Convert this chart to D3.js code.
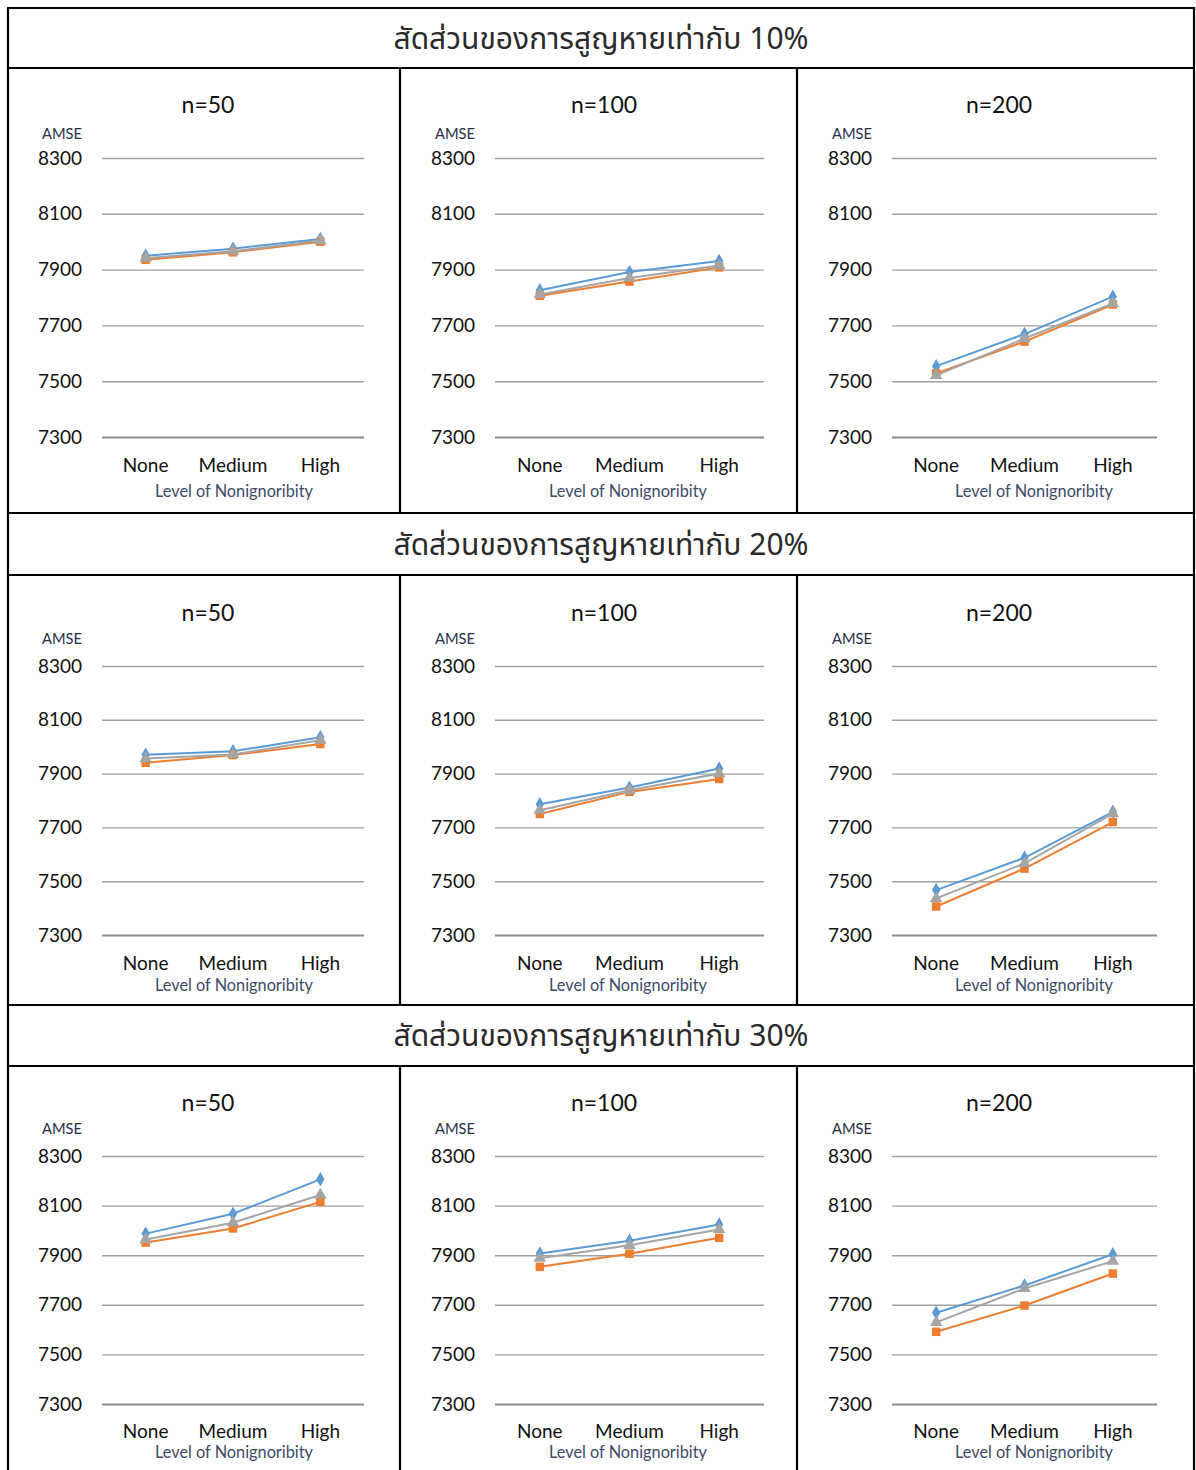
<!DOCTYPE html>
<html>
<head>
<meta charset="utf-8">
<script src="https://cdn.jsdelivr.net/npm/d3@7"></script>
<style>
  html, body { margin: 0; padding: 0; background: #fff; }
  svg { display: block; }
</style>
</head>
<body>
<svg id="chart" width="1196" height="1470"></svg>
<script>
// Categories on the x axis and the y tick values shared by all panels
const categories = ["None", "Medium", "High"];
const yTicks = [7300, 7500, 7700, 7900, 8100, 8300];
const missingRates = ["10%", "20%", "30%"];
const sampleSizes = ["n=50", "n=100", "n=200"];
const headerPrefix = "สัดส่วนของการสูญหายเท่ากับ ";
const yAxisLabel = "AMSE";
const xAxisLabel = "Level of Nonignoribity";

// AMSE by missing rate: each list holds [n=50, n=100, n=200], each with None/Medium/High
const blueSeries10 = [[7950, 7975, 8010], [7826, 7891, 7931], [7554, 7669, 7803]];
const orangeSeries10 = [[7935, 7962, 8000], [7806, 7857, 7908], [7528, 7642, 7775]];
const graySeries10 = [[7941, 7966, 8004], [7811, 7870, 7915], [7521, 7653, 7779]];

const blueSeries20 = [[7970, 7983, 8035], [7786, 7848, 7919], [7467, 7587, 7758]];
const orangeSeries20 = [[7940, 7969, 8010], [7750, 7832, 7880], [7406, 7547, 7720]];
const graySeries20 = [[7956, 7971, 8024], [7764, 7838, 7900], [7436, 7566, 7751]];

const blueSeries30 = [[7987, 8067, 8206], [7907, 7958, 8024], [7668, 7778, 7904]];
const orangeSeries30 = [[7951, 8008, 8115], [7853, 7906, 7970], [7591, 7697, 7826]];
const graySeries30 = [[7963, 8031, 8143], [7888, 7940, 8004], [7629, 7766, 7876]];

const seriesByRate = [
  [blueSeries10, orangeSeries10, graySeries10],
  [blueSeries20, orangeSeries20, graySeries20],
  [blueSeries30, orangeSeries30, graySeries30]
];

// Series styling (drawn in this order, later ones on top)
const seriesStyle = [
  { color: "#5B9BD5", symbol: d3.symbolDiamond, size: 60 },
  { color: "#ED7D31", symbol: d3.symbolSquare, size: 72 },
  { color: "#A5A5A5", symbol: d3.symbolTriangle, size: 68 }
];

// ---- Layout ----
const tableLeft = 8, tableRight = 1194, tableTop = 8;
const colDividers = [400, 797];
// Each block: header band, then a row of three panels
const blocks = [
  { headTop: 8, headBottom: 68, panelBottom: 513, gridTop: 158, gridBottom: 437, amseY: 133, titleY: 105, catY: 465, xTitleY: 491 },
  { headTop: 513, headBottom: 575, panelBottom: 1005, gridTop: 666, gridBottom: 935, amseY: 638, titleY: 613, catY: 963, xTitleY: 985 },
  { headTop: 1005, headBottom: 1066, panelBottom: 1480, gridTop: 1156, gridBottom: 1404, amseY: 1128, titleY: 1103, catY: 1431, xTitleY: 1452 }
];
const columns = [
  { gridLeft: 102, gridRight: 364, titleX: 208, xTitleX: 234 },
  { gridLeft: 495, gridRight: 764, titleX: 604, xTitleX: 628 },
  { gridLeft: 892, gridRight: 1157, titleX: 999, xTitleX: 1034 }
];

const svg = d3.select("#chart");
const chartFont = "Lato, 'Open Sans', 'Noto Sans', sans-serif";
const thaiFont = "Tahoma, 'Leelawadee UI', 'Noto Sans Thai', 'Noto Sans Thai Looped', Garuda, Loma, 'Noto Sans', sans-serif";
const labelColor = "#3B4A68";

blocks.forEach((b, bi) => {
  // Header band with the missing-rate caption
  svg.append("text")
    .attr("x", (tableLeft + tableRight) / 2)
    .attr("y", (b.headTop + b.headBottom) / 2)
    .attr("dy", "0.36em")
    .attr("text-anchor", "middle")
    .attr("font-family", thaiFont)
    .attr("font-size", 30)
    .attr("fill", "#2a2a2a")
    .text(headerPrefix + missingRates[bi]);

  const y = d3.scaleLinear()
    .domain([d3.min(yTicks), d3.max(yTicks)])
    .range([b.gridBottom, b.gridTop]);

  columns.forEach((c, ci) => {
    const g = svg.append("g");
    const x = d3.scalePoint()
      .domain(categories)
      .range([c.gridLeft, c.gridRight])
      .padding(0.5);

    // Horizontal gridlines with tick labels via a left axis
    const axis = d3.axisLeft(y)
      .tickValues(yTicks)
      .tickSize(-(c.gridRight - c.gridLeft))
      .tickPadding(20)
      .tickFormat(d3.format("d"));
    const ag = g.append("g")
      .attr("transform", `translate(${c.gridLeft},0)`)
      .call(axis);
    ag.select(".domain").remove();
    ag.selectAll(".tick line")
      .attr("stroke", d => d === 7300 ? "#8C8C8C" : "#A0A0A0")
      .attr("stroke-width", d => d === 7300 ? 1.8 : 1.4);
    ag.selectAll(".tick text")
      .attr("font-family", chartFont)
      .attr("font-size", 19)
      .attr("fill", "#111");

    // Category labels
    g.selectAll(".cat")
      .data(categories)
      .join("text")
      .attr("x", d => x(d))
      .attr("y", b.catY)
      .attr("dy", "0.36em")
      .attr("text-anchor", "middle")
      .attr("font-family", chartFont)
      .attr("font-size", 19)
      .attr("fill", "#111")
      .text(d => d);

    // Panel title
    g.append("text")
      .attr("x", c.titleX)
      .attr("y", b.titleY)
      .attr("dy", "0.36em")
      .attr("text-anchor", "middle")
      .attr("font-family", chartFont)
      .attr("font-size", 23)
      .attr("fill", "#111")
      .text(sampleSizes[ci]);

    // y-axis caption
    g.append("text")
      .attr("x", c.gridLeft - 20)
      .attr("y", b.amseY)
      .attr("dy", "0.36em")
      .attr("text-anchor", "end")
      .attr("font-family", chartFont)
      .attr("font-size", 16)
      .attr("textLength", 40)
      .attr("lengthAdjust", "spacingAndGlyphs")
      .attr("fill", "#26304A")
      .text(yAxisLabel);

    // x-axis caption
    g.append("text")
      .attr("x", c.xTitleX)
      .attr("y", b.xTitleY)
      .attr("dy", "0.36em")
      .attr("text-anchor", "middle")
      .attr("font-family", chartFont)
      .attr("font-size", 17)
      .attr("textLength", 158)
      .attr("lengthAdjust", "spacingAndGlyphs")
      .attr("fill", labelColor)
      .text(xAxisLabel);

    // Lines and markers
    const line = d3.line()
      .x((d, i) => x(categories[i]))
      .y(d => y(d));
    seriesByRate[bi].forEach((series, si) => {
      const vals = series[ci];
      const st = seriesStyle[si];
      g.append("path")
        .datum(vals)
        .attr("d", line)
        .attr("fill", "none")
        .attr("stroke", st.color)
        .attr("stroke-width", 2);
      g.selectAll(null)
        .data(vals)
        .join("path")
        .attr("transform", (d, i) => `translate(${x(categories[i])},${y(d)})`)
        .attr("d", d3.symbol().type(st.symbol).size(st.size))
        .attr("fill", st.color);
    });
  });
});

// Table borders
const borders = svg.append("g")
  .attr("stroke", "#000")
  .attr("stroke-width", 2.2)
  .attr("fill", "none");
const lastBottom = 1470;
borders.append("line").attr("x1", tableLeft).attr("x2", tableLeft).attr("y1", tableTop).attr("y2", lastBottom);
borders.append("line").attr("x1", tableRight).attr("x2", tableRight).attr("y1", tableTop).attr("y2", lastBottom);
const hLines = [tableTop];
blocks.forEach(b => { hLines.push(b.headBottom); if (b.panelBottom < lastBottom) hLines.push(b.panelBottom); });
borders.selectAll(".h")
  .data(hLines)
  .join("line")
  .attr("x1", tableLeft - 1).attr("x2", tableRight + 1)
  .attr("y1", d => d).attr("y2", d => d);
blocks.forEach(b => {
  colDividers.forEach(cx => {
    borders.append("line")
      .attr("x1", cx).attr("x2", cx)
      .attr("y1", b.headBottom).attr("y2", Math.min(b.panelBottom, lastBottom));
  });
});
</script>
</body>
</html>
